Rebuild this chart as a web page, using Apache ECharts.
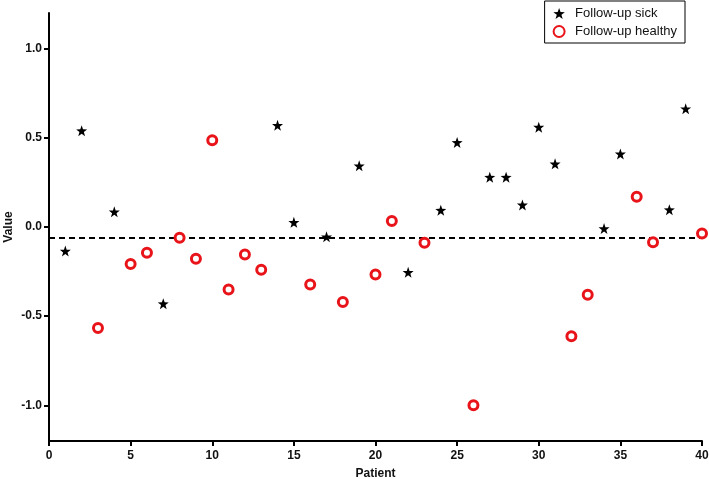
<!DOCTYPE html>
<html>
<head>
<meta charset="utf-8">
<script src="https://cdn.jsdelivr.net/npm/echarts@6/dist/echarts.min.js"></script>
<style>html,body{margin:0;padding:0;background:#fff}#c{width:709px;height:479px}</style>
</head>
<body>
<div id="c"></div>
<script>
var sickPatients = [1,2,4,7,14,15,17,19,22,24,25,27,28,29,30,31,34,35,38,39];
var sickValues = [-0.135,0.54,0.085,-0.43,0.57,0.026,-0.055,0.343,-0.254,0.094,0.474,0.279,0.279,0.124,0.56,0.354,-0.009,0.41,0.097,0.663];
var healthyPatients = [3,5,6,8,9,10,11,12,13,16,18,20,21,23,26,32,33,36,37,40];
var healthyValues = [-0.566,-0.208,-0.144,-0.06,-0.178,0.487,-0.35,-0.154,-0.24,-0.322,-0.421,-0.266,0.034,-0.088,-1.0,-0.612,-0.38,0.169,-0.086,-0.036];
var thresholdValue = -0.058;
var yTickValues = [-1.0,-0.5,0.0,0.5,1.0];
var xTickValues = [0,5,10,15,20,25,30,35,40];

var STAR = 'path://M0,-10 L2.35,-3.24 L9.51,-3.09 L3.8,1.24 L5.88,8.09 L0,4 L-5.88,8.09 L-3.8,1.24 L-9.51,-3.09 L-2.35,-3.24 Z';
var FONT = '"Liberation Sans", "Open Sans", sans-serif';

function pairs(xs, ys){ return xs.map(function(x,i){ return [x, ys[i]]; }); }

var chart = echarts.init(document.getElementById('c'), null, {renderer:'canvas'});
chart.setOption({
  animation:false,
  backgroundColor:'#fff',
  grid:{left:49, right:7, top:13, bottom:38, containLabel:false, outerBoundsMode:'none'},
  legend:{
    orient:'vertical', right:24, top:1,
    borderColor:'#000', borderWidth:1, padding:[6,8,5,8], itemGap:5,
    itemWidth:14, itemHeight:11,
    textStyle:{fontFamily:FONT, fontSize:13, color:'#111', padding:[0,0,0,4]},
    data:['Follow-up sick','Follow-up healthy']
  },
  xAxis:{
    type:'value', min:0, max:40, interval:5,
    name:'Patient', nameLocation:'middle', nameGap:27, nameMoveOverlap:false,
    nameTextStyle:{fontFamily:FONT, fontSize:12, fontWeight:'bold', color:'#111'},
    axisLine:{show:true, onZero:false, lineStyle:{color:'#000', width:2}},
    axisTick:{show:true, length:5, lineStyle:{color:'#000', width:2}},
    axisLabel:{fontFamily:FONT, fontSize:12, fontWeight:'bold', color:'#111', margin:9,
      customValues:xTickValues},
    splitLine:{show:false}
  },
  yAxis:{
    type:'value', min:-1.2, max:1.2,
    name:'Value', nameLocation:'middle', nameGap:34, nameMoveOverlap:false,
    nameTextStyle:{fontFamily:FONT, fontSize:12, fontWeight:'bold', color:'#111'},
    axisLine:{show:true, onZero:false, lineStyle:{color:'#000', width:2}},
    axisTick:{show:true, length:5, lineStyle:{color:'#000', width:2}, customValues:yTickValues},
    axisLabel:{fontFamily:FONT, fontSize:12, fontWeight:'bold', color:'#111', margin:7,
      customValues:yTickValues,
      formatter:function(v){ return v.toFixed(1); }},
    splitLine:{show:false}
  },
  series:[
    {
      name:'Follow-up sick', type:'scatter', symbol:STAR, symbolSize:11, clip:false, z:3,
      itemStyle:{color:'#000', opacity:1},
      data:pairs(sickPatients, sickValues),
      markLine:{
        silent:true, symbol:['none','none'], label:{show:false}, z:1,
        lineStyle:{color:'#000', width:2, type:[6,4], opacity:1},
        data:[{yAxis:thresholdValue}]
      }
    },
    {
      name:'Follow-up healthy', type:'scatter', symbol:'circle', symbolSize:9, clip:false, z:4,
      itemStyle:{color:'#fff', borderColor:'#e8141a', borderWidth:3, opacity:1},
      data:pairs(healthyPatients, healthyValues)
    }
  ]
});
</script>
</body>
</html>
